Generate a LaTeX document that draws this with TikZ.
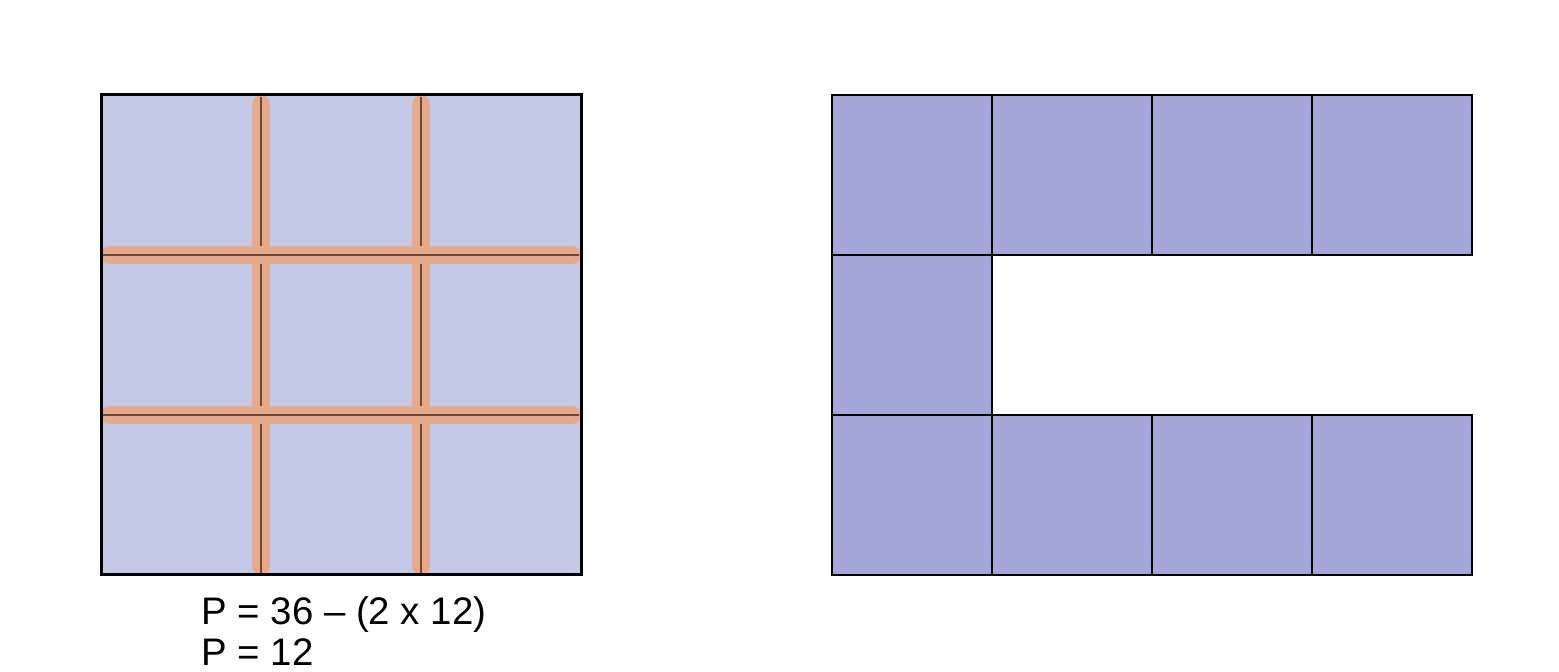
\documentclass[tikz,border=0pt]{standalone}
\usepackage{fontspec}
\setmainfont{Liberation Sans}
\definecolor{lightcell}{HTML}{C5C9E8}
\definecolor{darkcell}{HTML}{A3A8D8}
\definecolor{seam}{HTML}{E6A98C}
\definecolor{seamcore}{HTML}{6B4A38}
\begin{document}
\begin{tikzpicture}[x=0.5pt,y=-0.5pt,
  cellbox/.style={fill=darkcell,draw=black,line width=1.4pt},
  seamline/.style={draw=seam,line width=9pt,line cap=round},
  seamcoreline/.style={draw=seamcore,line width=1.1pt},
  formula/.style={anchor=base west,inner sep=0pt,font=\fontsize{19.2}{23}\selectfont}]
\useasboundingbox (0,0) rectangle (1559,672);
% left square
\fill[lightcell] (101,95) rectangle (581,575);
\foreach \v in {261,421}{
  \draw[seamline] (\v,104) -- (\v,566);
  \draw[seamcoreline] (\v,97) -- (\v,573);
}
\foreach \h in {255,415}{
  \draw[seamline] (110,\h) -- (572,\h);
  \draw[seamcoreline] (103,\h) -- (579,\h);
}
\draw[black,line width=1.5pt] (101,95) rectangle (581,575);
\node[formula] (f1) at (201,625) {P = 36 – (2 x 12)};
\node[formula] (f2) at (201,666) {P = 12};
% right shape
\foreach \x in {832,992,1152,1312}{
  \draw[cellbox] (\x,95) rectangle ++(160,160);
  \draw[cellbox] (\x,415) rectangle ++(160,160);
}
\draw[cellbox] (832,255) rectangle ++(160,160);
\end{tikzpicture}
\end{document}
